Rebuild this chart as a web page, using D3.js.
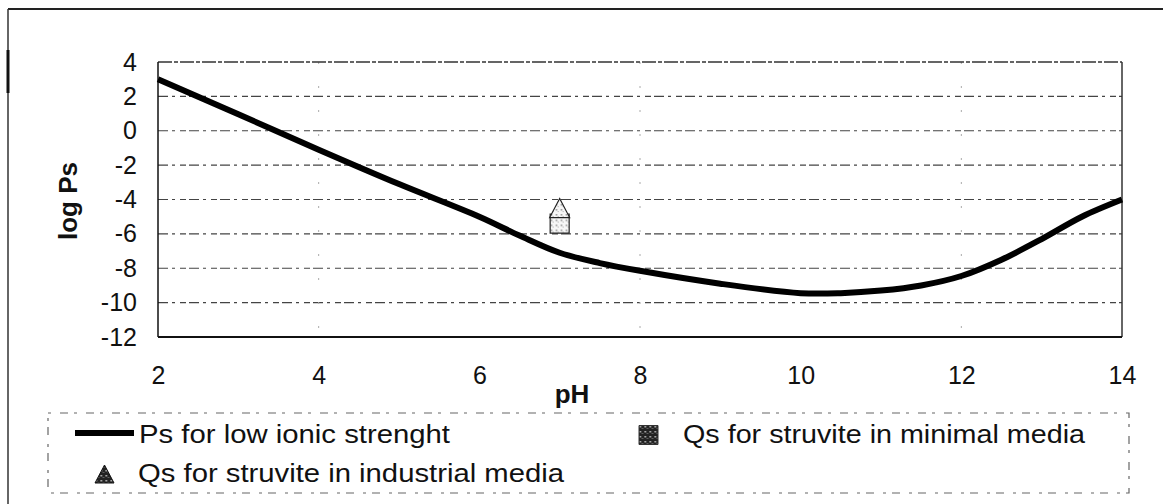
<!DOCTYPE html>
<html>
<head>
<meta charset="utf-8">
<script src="https://cdn.jsdelivr.net/npm/d3@7"></script>
<style>
  html, body { margin: 0; padding: 0; background: #fff; }
  svg { display: block; font-family: "Liberation Sans", Arial, sans-serif; }
</style>
</head>
<body>
<svg id="chart" width="1163" height="504"></svg>
<script>
// Solubility product of struvite versus pH
const phValues = [2, 3, 4, 5, 6, 6.5, 7, 7.5, 8, 9, 10, 10.5, 11, 11.5, 12, 12.5, 13, 13.5, 14];
const logPsLowIonic = [3.0, 0.96, -1.1, -3.1, -5.0, -6.1, -7.1, -7.7, -8.15, -8.9, -9.45, -9.45, -9.3, -9.0, -8.45, -7.5, -6.3, -5.0, -4.0];

// Measured supersaturation points
const qsMinimalPh = [7];
const qsMinimalLog = [-5.4];
const qsIndustrialPh = [7];
const qsIndustrialLog = [-4.5];

const xTicks = [2, 4, 6, 8, 10, 12, 14];
const yTicks = [4, 2, 0, -2, -4, -6, -8, -10, -12];
const seriesNames = ["Ps for low ionic strenght", "Qs for struvite in minimal media", "Qs for struvite in industrial media"];

const svg = d3.select("#chart");

// speckled fills for the markers
const defs = svg.append("defs");
const light = defs.append("pattern").attr("id", "speckLight")
  .attr("width", 5).attr("height", 5).attr("patternUnits", "userSpaceOnUse");
light.append("rect").attr("width", 5).attr("height", 5).attr("fill", "#f6f6f6");
light.append("rect").attr("x", 1).attr("y", 1).attr("width", 1.5).attr("height", 1.5).attr("fill", "#888");
light.append("rect").attr("x", 3).attr("y", 3).attr("width", 1).attr("height", 1).attr("fill", "#aaa");
const dark = defs.append("pattern").attr("id", "speckDark")
  .attr("width", 5).attr("height", 5).attr("patternUnits", "userSpaceOnUse");
dark.append("rect").attr("width", 5).attr("height", 5).attr("fill", "#222");
dark.append("rect").attr("x", 1).attr("y", 1).attr("width", 1.5).attr("height", 1.5).attr("fill", "#ccc");
dark.append("rect").attr("x", 3.5).attr("y", 3).attr("width", 1).attr("height", 1).attr("fill", "#999");

// marker shapes centred on their point
const squarePath = s => `M${-s / 2},${-s / 2}H${s / 2}V${s / 2}H${-s / 2}Z`;
const trianglePath = (w, h) => `M0,${-h / 2}L${w / 2},${h / 2}L${-w / 2},${h / 2}Z`;

// outer frame
svg.append("line").attr("x1", 8).attr("y1", 9).attr("x2", 1163).attr("y2", 9)
  .attr("stroke", "#222").attr("stroke-width", 2);
svg.append("line").attr("x1", 8).attr("y1", 9).attr("x2", 8).attr("y2", 504)
  .attr("stroke", "#333").attr("stroke-width", 1.5);
svg.append("line").attr("x1", 8).attr("y1", 50).attr("x2", 8).attr("y2", 93)
  .attr("stroke", "#111").attr("stroke-width", 3);

const plot = { left: 158, right: 1122, top: 62, bottom: 337 };

const x = d3.scaleLinear().domain([2, 14]).range([plot.left, plot.right]);
const y = d3.scaleLinear().domain([-12, 4]).range([plot.bottom, plot.top]);

// horizontal gridlines
svg.append("g").selectAll("line")
  .data(yTicks.filter(v => v < 4 && v > -12))
  .join("line")
  .attr("x1", plot.left).attr("x2", plot.right)
  .attr("y1", d => y(d)).attr("y2", d => y(d))
  .attr("stroke", "#444").attr("stroke-width", 1.2)
  .attr("stroke-dasharray", "10,4,3,5,6,3");

// faint vertical guides
svg.append("g").selectAll("line")
  .data([4, 8, 12])
  .join("line")
  .attr("x1", d => x(d)).attr("x2", d => x(d))
  .attr("y1", plot.top).attr("y2", plot.bottom)
  .attr("stroke", "#aaa").attr("stroke-width", 1)
  .attr("stroke-dasharray", "2,22");

// plot area border
svg.append("line").attr("x1", plot.left).attr("x2", plot.right)
  .attr("y1", plot.top).attr("y2", plot.top)
  .attr("stroke", "#333").attr("stroke-width", 1.5).attr("stroke-dasharray", "14,2,4,2");
svg.append("line").attr("x1", plot.right).attr("x2", plot.right)
  .attr("y1", plot.top).attr("y2", plot.bottom)
  .attr("stroke", "#333").attr("stroke-width", 1.5);
svg.append("line").attr("x1", plot.left).attr("x2", plot.left)
  .attr("y1", plot.top).attr("y2", plot.bottom)
  .attr("stroke", "#111").attr("stroke-width", 1.5);
svg.append("line").attr("x1", plot.left).attr("x2", plot.right)
  .attr("y1", plot.bottom).attr("y2", plot.bottom)
  .attr("stroke", "#111").attr("stroke-width", 2);

// axes (labels only)
const fmt = d => String(d);
const yAxis = d3.axisLeft(y).tickValues(yTicks).tickSize(0).tickPadding(21).tickFormat(fmt);
const gy = svg.append("g").attr("transform", `translate(${plot.left},0)`).call(yAxis);
gy.select(".domain").remove();
gy.attr("font-size", 25).attr("font-family", "'Liberation Sans', Arial, sans-serif");
gy.selectAll("text").attr("fill", "#111");

const xAxis = d3.axisBottom(x).tickValues(xTicks).tickSize(0).tickPadding(29).tickFormat(fmt);
const gx = svg.append("g").attr("transform", `translate(0,${plot.bottom})`).call(xAxis);
gx.select(".domain").remove();
gx.attr("font-size", 25).attr("font-family", "'Liberation Sans', Arial, sans-serif");
gx.selectAll("text").attr("fill", "#111");

// axis titles
svg.append("text").attr("transform", `translate(77,201) rotate(-90)`)
  .attr("text-anchor", "middle").attr("font-size", 26).attr("font-weight", "bold")
  .attr("fill", "#111").text("log Ps");
svg.append("text").attr("x", 572).attr("y", 403)
  .attr("text-anchor", "middle").attr("font-size", 26).attr("font-weight", "bold")
  .attr("fill", "#111").text("pH");

// solubility curve
const line = d3.line().x((d, i) => x(phValues[i])).y(d => y(d)).curve(d3.curveCatmullRom.alpha(0.5));
svg.append("path").datum(logPsLowIonic)
  .attr("d", line)
  .attr("fill", "none").attr("stroke", "#000").attr("stroke-width", 6)
  .attr("stroke-linejoin", "round");

// measured points
svg.append("g").selectAll("path")
  .data(qsMinimalLog)
  .join("path")
  .attr("transform", (d, i) => `translate(${x(qsMinimalPh[i])},${y(d)})`)
  .attr("d", squarePath(19)).attr("fill", "url(#speckLight)").attr("stroke", "#222").attr("stroke-width", 1.2);
svg.append("g").selectAll("path")
  .data(qsIndustrialLog)
  .join("path")
  .attr("transform", (d, i) => `translate(${x(qsIndustrialPh[i])},${y(d)})`)
  .attr("d", trianglePath(20, 19)).attr("fill", "url(#speckLight)").attr("stroke", "#222").attr("stroke-width", 1.2);

// legend box
const legend = svg.append("g");
legend.append("rect").attr("x", 48).attr("y", 413).attr("width", 1081).attr("height", 80)
  .attr("fill", "none").attr("stroke", "#666").attr("stroke-width", 1.2)
  .attr("stroke-dasharray", "3,9,8,6");

legend.append("line").attr("x1", 75).attr("x2", 134).attr("y1", 433).attr("y2", 433)
  .attr("stroke", "#000").attr("stroke-width", 6);
legend.append("text").attr("x", 139).attr("y", 443)
  .attr("font-size", 25).attr("fill", "#111")
  .attr("textLength", 311).attr("lengthAdjust", "spacingAndGlyphs")
  .text(seriesNames[0]);

legend.append("path").attr("transform", "translate(648.5,435)")
  .attr("d", squarePath(19)).attr("fill", "url(#speckDark)").attr("stroke", "#333").attr("stroke-width", 1);
legend.append("text").attr("x", 683).attr("y", 443)
  .attr("font-size", 25).attr("fill", "#111")
  .attr("textLength", 402).attr("lengthAdjust", "spacingAndGlyphs")
  .text(seriesNames[1]);

legend.append("path").attr("transform", "translate(104.5,474)")
  .attr("d", trianglePath(19, 18)).attr("fill", "url(#speckDark)").attr("stroke", "#111").attr("stroke-width", 1);
legend.append("text").attr("x", 138).attr("y", 482)
  .attr("font-size", 25).attr("fill", "#111")
  .attr("textLength", 426).attr("lengthAdjust", "spacingAndGlyphs")
  .text(seriesNames[2]);
</script>
</body>
</html>
